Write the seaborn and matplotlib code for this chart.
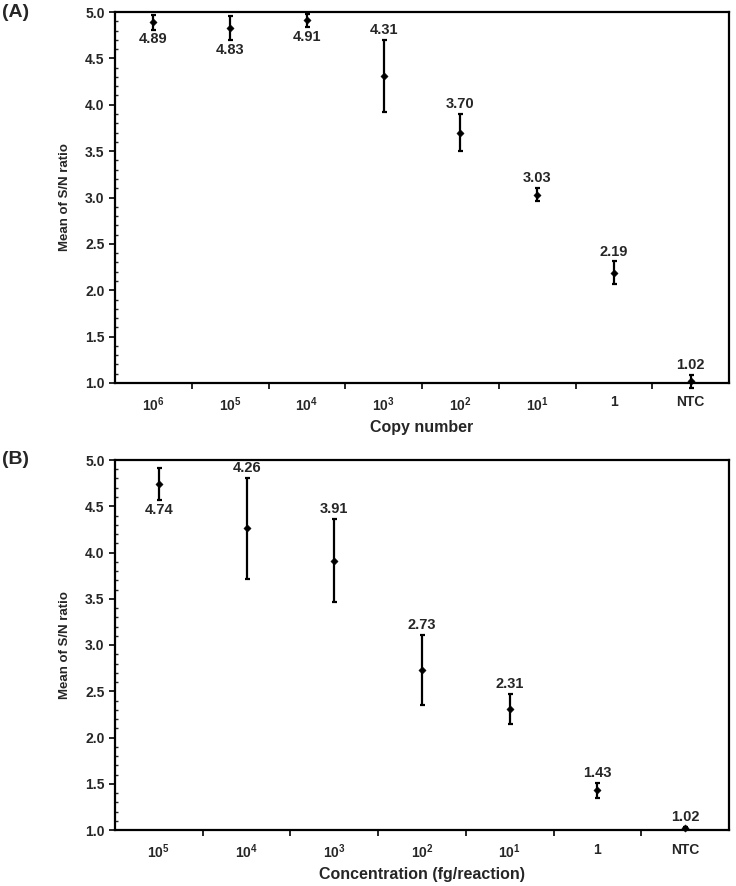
import numpy as np
import pandas as pd
import matplotlib
matplotlib.use("Agg")
import matplotlib.pyplot as plt
import seaborn as sns
from matplotlib.ticker import MultipleLocator, FixedLocator, NullFormatter

# Panel A: copy number
copy_labels = [r"$\mathbf{10^6}$", r"$\mathbf{10^5}$", r"$\mathbf{10^4}$", r"$\mathbf{10^3}$",
               r"$\mathbf{10^2}$", r"$\mathbf{10^1}$", "1", "NTC"]
copy_mean = [4.89, 4.83, 4.91, 4.31, 3.70, 3.03, 2.19, 1.02]
copy_sd = [0.08, 0.13, 0.07, 0.39, 0.20, 0.07, 0.12, 0.07]
copy_below = [True, True, True, False, False, False, False, False]

# Panel B: concentration
conc_labels = [r"$\mathbf{10^5}$", r"$\mathbf{10^4}$", r"$\mathbf{10^3}$", r"$\mathbf{10^2}$",
               r"$\mathbf{10^1}$", "1", "NTC"]
conc_mean = [4.74, 4.26, 3.91, 2.73, 2.31, 1.43, 1.02]
conc_sd = [0.17, 0.55, 0.45, 0.38, 0.16, 0.08, 0.01]
conc_below = [True, False, False, False, False, False, False]

sns.set_style("ticks")
plt.rcParams["font.family"] = ["Liberation Sans", "DejaVu Sans"]
plt.rcParams["font.weight"] = "bold"
plt.rcParams["mathtext.fontset"] = "custom"
plt.rcParams["mathtext.rm"] = "Liberation Sans:bold"
plt.rcParams["mathtext.bf"] = "Liberation Sans:bold"


def draw_panel(ax, labels, means, sds, below, xlabel):
    n = len(labels)
    df = pd.DataFrame({"pos": np.arange(n), "mean": means})
    ax.errorbar(df["pos"], df["mean"], yerr=sds, fmt="none", ecolor="black",
                elinewidth=1.6, capsize=1.8, capthick=1.6, zorder=2, clip_on=False)
    sns.scatterplot(data=df, x="pos", y="mean", ax=ax, color="black", marker="D",
                    s=14, edgecolor="black", zorder=3, clip_on=False, legend=False)
    # value labels above or below the error bars
    for i in range(n):
        if below[i]:
            ax.text(i, means[i] - sds[i] - 0.03, f"{means[i]:.2f}", ha="center", va="top",
                    fontsize=10.5, fontweight="bold")
        else:
            ax.text(i, means[i] + sds[i] + 0.03, f"{means[i]:.2f}", ha="center", va="bottom",
                    fontsize=10.5, fontweight="bold")
    ax.set_xlim(-0.5, n - 0.5)
    ax.set_ylim(1.0, 5.0)
    ax.yaxis.set_major_locator(MultipleLocator(0.5))
    ax.yaxis.set_minor_locator(MultipleLocator(0.1))
    ax.yaxis.set_major_formatter(matplotlib.ticker.FormatStrFormatter("%.1f"))
    ax.set_xticks(np.arange(n))
    ax.set_xticklabels(labels)
    # ticks sit between the categories
    ax.xaxis.set_minor_locator(FixedLocator(np.arange(n - 1) + 0.5))
    ax.xaxis.set_minor_formatter(NullFormatter())
    ax.tick_params(axis="x", which="major", length=0, pad=9, labelsize=10)
    ax.tick_params(axis="x", which="minor", length=4, width=1.4, direction="out")
    ax.tick_params(axis="y", which="major", length=4, width=1.4, direction="out", labelsize=10)
    ax.tick_params(axis="y", which="minor", length=2.5, width=1.0, direction="in")
    for sp in ax.spines.values():
        sp.set_linewidth(1.6)
        sp.set_color("black")
    ax.set_xlabel(xlabel, fontsize=11.5, fontweight="bold", labelpad=4)
    ax.set_ylabel("Mean of S/N ratio", fontsize=9.5, fontweight="bold", labelpad=10)


fig = plt.figure(figsize=(7.36, 8.86), dpi=100)
W, H = 736, 886
ax1 = fig.add_axes([115 / W, 1 - 383 / H, (729 - 115) / W, (383 - 12) / H])
ax2 = fig.add_axes([115 / W, 1 - 830 / H, (729 - 115) / W, (830 - 460) / H])

draw_panel(ax1, copy_labels, copy_mean, copy_sd, copy_below, "Copy number")
draw_panel(ax2, conc_labels, conc_mean, conc_sd, conc_below, "Concentration (fg/reaction)")

fig.text(2 / W, 1 - 4 / H, "(A)", fontsize=14, fontweight="bold", va="top", ha="left")
fig.text(2 / W, 1 - 451 / H, "(B)", fontsize=14, fontweight="bold", va="top", ha="left")

fig.savefig("out.png", dpi=100)
